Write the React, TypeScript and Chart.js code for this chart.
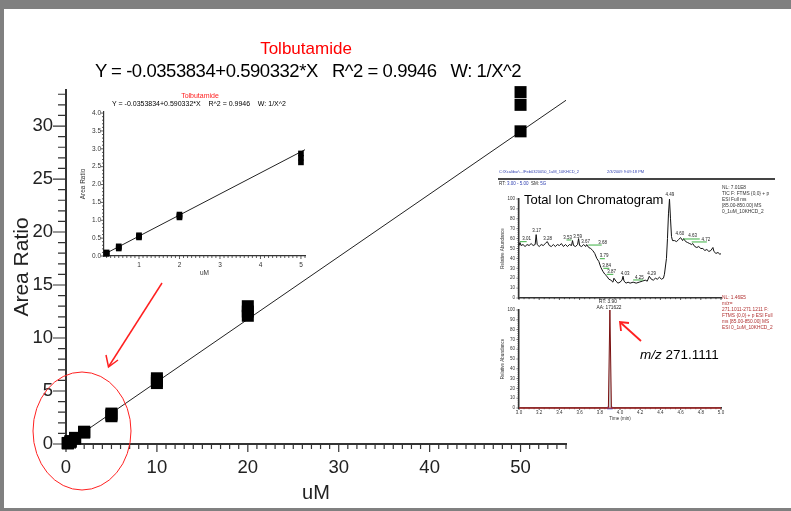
import React, { useEffect, useRef } from "react";
import { Chart, registerables } from "chart.js";

Chart.register(...registerables);

const FONT = '"Liberation Sans", Arial, Helvetica, sans-serif';
Chart.defaults.font.family = FONT;

// ---------------- Calibration data (Tolbutamide) ----------------
const concUM = [0.2, 0.2, 0.2, 0.5, 0.5, 0.5, 1, 1, 1, 2, 2, 2, 5, 5, 5, 10, 10, 10, 20, 20, 20, 50, 50, 50];
const areaRatio = [0.06, 0.08, 0.1, 0.21, 0.24, 0.27, 0.52, 0.55, 0.58, 1.08, 1.12, 1.16, 2.62, 2.75, 2.87, 5.75, 5.95, 6.2, 12.1, 12.5, 13.0, 29.5, 32.0, 33.2];
const fitConc = [0.2, 55];
const fitRatio = [0.083, 32.43];
const insetFitConc = [0.2, 5.1];
const insetFitRatio = [0.083, 2.975];

const mainXTicks = [0, 10, 20, 30, 40, 50];
const mainYTicks = [0, 5, 10, 15, 20, 25, 30];
const insetXTicks = [1, 2, 3, 4, 5];
const insetYTicks = [0, 0.5, 1, 1.5, 2, 2.5, 3, 3.5, 4];

// ---------------- Chromatogram data ----------------
const ticTime = [
  3.00, 3.01, 3.02, 3.04, 3.06, 3.08, 3.10, 3.12, 3.14, 3.16,
  3.17, 3.18,
  3.20, 3.22, 3.24, 3.26, 3.28,
  3.30, 3.32, 3.34, 3.36, 3.38, 3.40, 3.42, 3.44, 3.46, 3.48, 3.50, 3.52,
  3.53, 3.54, 3.56, 3.58, 3.59, 3.60, 3.62, 3.64, 3.66, 3.67,
  3.69, 3.71, 3.73, 3.75, 3.77, 3.79, 3.81, 3.83, 3.85, 3.87, 3.89, 3.91, 3.93,
  3.94, 3.96, 3.98, 4.00, 4.02, 4.03, 4.04, 4.06, 4.08, 4.10,
  4.13, 4.16, 4.19, 4.22, 4.25, 4.27, 4.29, 4.31, 4.33, 4.35, 4.37, 4.39, 4.41, 4.43,
  4.44, 4.46, 4.47, 4.48, 4.49, 4.50, 4.51, 4.52,
  4.54, 4.56, 4.58, 4.60, 4.62, 4.63, 4.65, 4.67, 4.69, 4.71, 4.72,
  4.74, 4.76, 4.78, 4.80, 4.82, 4.84, 4.86, 4.88, 4.90, 4.92, 4.93, 4.95, 4.97, 4.99, 5.00,
];
const ticAbund = [
  53, 56, 53, 54, 52, 54, 53, 55, 53, 54,
  64, 54,
  52, 54, 53, 55, 57,
  53, 52, 54, 52, 54, 53, 55, 52, 54, 52, 54, 53,
  58, 53, 52, 54, 60, 53, 52, 54, 52, 54,
  51, 50, 48, 45, 40, 37, 31, 27, 24, 22, 19, 18, 16,
  20, 17, 15, 16, 18, 22, 17, 15, 16, 15,
  16, 15, 16, 17, 18, 17, 22, 19, 18, 20, 19, 21, 19, 20,
  24, 40, 60, 85, 100, 80, 62, 58,
  58, 57, 59, 61, 58, 60, 57, 56, 55, 54, 55,
  52, 51, 52, 50, 50, 48, 49, 47, 48, 51, 47, 45, 46, 44, 45,
];
const ticPeakLabels = ["3.01", "3.17", "3.28", "3.53", "3.59", "3.67", "3.68", "3.79", "3.84", "3.87", "4.03", "4.25", "4.29", "4.49", "4.60", "4.63", "4.72"];
const ticLabelTime = [3.076, 3.175, 3.284, 3.482, 3.581, 3.66, 3.828, 3.842, 3.868, 3.918, 4.05, 4.191, 4.314, 4.495, 4.594, 4.72, 4.851];
const ticLabelAbund = [59.6, 67.7, 59.6, 60.9, 61.9, 56.3, 55.9, 42.4, 32.3, 26.6, 24.2, 20.9, 24.9, 104, 64.6, 62.6, 58.6];
const greenStart = [3.01, 3.47, 3.686, 3.8, 3.835, 3.868, 4.13, 4.627, 4.71];
const greenEnd = [3.076, 3.52, 3.819, 3.85, 3.894, 3.934, 4.23, 4.79, 4.86];
const greenLevel = [56.9, 58.6, 53.5, 39.7, 30, 23.9, 18.2, 59.6, 56.6];

const eicTime = [3.0, 3.885, 3.9, 3.915, 5.0];
const eicAbund = [0, 0, 100, 0, 0];
const eicBaseTime = [3.0, 5.0];
const eicBaseAbund = [0, 0];
const eicMarkTime = [3.885, 3.915];
const eicMarkAbund = [0, 0];

const chromXTicks = [3.0, 3.2, 3.4, 3.6, 3.8, 4.0, 4.2, 4.4, 4.6, 4.8, 5.0];
const chromYTicks = [0, 10, 20, 30, 40, 50, 60, 70, 80, 90, 100];

// ---------------- helpers ----------------
type TickSpec = { id: string; from: number; to: number; step: number; major: number; majorLen: number; minorLen: number; color?: string; width?: number };

function ticksPlugin(specs: TickSpec[]) {
  return {
    id: "axisTicks",
    beforeDatasetsDraw(chart: any) {
      const { ctx } = chart;
      specs.forEach((a) => {
        const s = chart.scales[a.id];
        ctx.save();
        ctx.strokeStyle = a.color || "#333";
        ctx.lineWidth = a.width || 1;
        ctx.beginPath();
        const n = Math.round((a.to - a.from) / a.step);
        for (let i = 0; i <= n; i++) {
          const v = a.from + i * a.step;
          const r = v / a.major;
          const isMajor = Math.abs(r - Math.round(r)) < 1e-6;
          const len = isMajor ? a.majorLen : a.minorLen;
          const p = s.getPixelForValue(v);
          if (s.isHorizontal()) {
            ctx.moveTo(p, s.top);
            ctx.lineTo(p, s.top + len);
          } else {
            ctx.moveTo(s.right, p);
            ctx.lineTo(s.right - len, p);
          }
        }
        ctx.stroke();
        ctx.restore();
      });
    },
  };
}

const pts = (xs: number[], ys: number[]) => xs.map((x, i) => ({ x, y: ys[i] }));
const setTicks = (vals: number[]) => (s: any) => {
  s.ticks = vals.map((v) => ({ value: v }));
};

function useChart(ref: any, make: () => any) {
  useEffect(() => {
    const c = new Chart(ref.current, make());
    return () => c.destroy();
  }, []);
}

const Txt = ({ x, y, size, color = "#000", center = false, children, style = {} }: any) => (
  <div
    style={{
      position: "absolute",
      left: x,
      top: y,
      fontSize: size,
      lineHeight: 1,
      color,
      fontFamily: FONT,
      whiteSpace: "pre",
      transform: center ? "translate(-50%,-50%)" : "translateY(-50%)",
      ...style,
    }}
  >
    {children}
  </div>
);

// ---------------- Main chart ----------------
function MainChart() {
  const ref = useRef<HTMLCanvasElement>(null);
  useChart(ref, () => ({
    type: "scatter",
    data: {
      datasets: [
        {
          type: "line",
          data: pts(fitConc, fitRatio),
          borderColor: "#222",
          borderWidth: 1,
          pointRadius: 0,
          order: 2,
        },
        {
          data: pts(concUM, areaRatio),
          pointStyle: "rect",
          pointRadius: 8.5,
          backgroundColor: "#000",
          borderWidth: 0,
          clip: false,
          order: 1,
        },
      ],
    },
    options: {
      responsive: false,
      animation: false,
      events: [],
      layout: { padding: { left: 0, top: 90, right: 225, bottom: 0 } },
      plugins: { legend: { display: false }, tooltip: { enabled: false } },
      scales: {
        x: {
          type: "linear",
          min: 0,
          max: 55,
          afterBuildTicks: setTicks(mainXTicks),
          afterFit: (s: any) => { s.height = 67; },
          grid: { display: false, drawTicks: true, tickLength: 8 },
          border: { display: true, color: "#333", width: 2 },
          ticks: { color: "#222", font: { size: 18.5 }, padding: 5, maxRotation: 0, autoSkip: false },
          title: { display: true, text: "uM", color: "#222", font: { size: 20 }, padding: { top: 0, bottom: 6 } },
        },
        y: {
          type: "linear",
          min: 0,
          max: 33.4,
          afterBuildTicks: setTicks(mainYTicks),
          afterFit: (s: any) => { s.width = 66; },
          grid: { display: false, drawTicks: true, tickLength: 13 },
          border: { display: true, color: "#333", width: 2 },
          ticks: { color: "#222", font: { size: 18.5 }, padding: 0, autoSkip: false },
          title: { display: true, text: "Area Ratio", color: "#222", font: { size: 21 }, padding: { top: 10, bottom: 0 } },
        },
      },
    },
    plugins: [
      ticksPlugin([
        { id: "x", from: 0, to: 55, step: 1, major: 10, majorLen: 8, minorLen: 5, color: "#333", width: 1.2 },
        { id: "y", from: 0, to: 33, step: 1, major: 5, majorLen: 13, minorLen: 8, color: "#333", width: 1.2 },
      ]),
    ],
  }));
  return <canvas ref={ref} width={791} height={511} style={{ position: "absolute", left: 0, top: 0, width: 791, height: 511 }} />;
}

// ---------------- Inset chart ----------------
function InsetChart() {
  const ref = useRef<HTMLCanvasElement>(null);
  useChart(ref, () => ({
    type: "scatter",
    data: {
      datasets: [
        { type: "line", data: pts(insetFitConc, insetFitRatio), borderColor: "#222", borderWidth: 1, pointRadius: 0, order: 2 },
        {
          data: pts(concUM.slice(0, 15), areaRatio.slice(0, 15)),
          pointStyle: "rect",
          pointRadius: 4,
          backgroundColor: "#000",
          borderWidth: 0,
          clip: false,
          order: 1,
        },
      ],
    },
    options: {
      responsive: false,
      animation: false,
      events: [],
      layout: { padding: { left: 0, top: 32, right: 15, bottom: 0 } },
      plugins: { legend: { display: false }, tooltip: { enabled: false } },
      scales: {
        x: {
          type: "linear",
          min: 0.136,
          max: 5.1,
          afterBuildTicks: setTicks(insetXTicks),
          afterFit: (s: any) => { s.height = 34; },
          grid: { display: false, drawTicks: true, tickLength: 3 },
          border: { display: true, color: "#333", width: 1.2 },
          ticks: { color: "#333", font: { size: 6.5 }, padding: 2, maxRotation: 0, autoSkip: false },
          title: { display: true, text: "uM", color: "#333", font: { size: 6.5 }, padding: { top: 0, bottom: 13 } },
        },
        y: {
          type: "linear",
          min: 0,
          max: 4.03,
          afterBuildTicks: setTicks(insetYTicks),
          afterFit: (s: any) => { s.width = 44; },
          grid: { display: false, drawTicks: true, tickLength: 3 },
          border: { display: true, color: "#333", width: 1.2 },
          ticks: { color: "#333", font: { size: 6.5 }, padding: 0, autoSkip: false, callback: (v: number) => v.toFixed(1) },
          title: { display: true, text: "Area Ratio", color: "#333", font: { size: 6.5 }, padding: { top: 19, bottom: 0 } },
        },
      },
    },
    plugins: [
      ticksPlugin([
        { id: "x", from: 0.2, to: 5.1, step: 0.1, major: 1, majorLen: 3, minorLen: 2, color: "#333", width: 0.8 },
        { id: "y", from: 0, to: 4, step: 0.1, major: 0.5, majorLen: 3, minorLen: 2, color: "#333", width: 0.8 },
      ]),
    ],
  }));
  return <canvas ref={ref} width={260} height={210} style={{ position: "absolute", left: 60, top: 80, width: 260, height: 210 }} />;
}

// ---------------- TIC chart ----------------
const ticLabelPlugin = {
  id: "ticLabels",
  afterDatasetsDraw(chart: any) {
    const { ctx } = chart;
    const { x, y } = chart.scales;
    ctx.save();
    ctx.strokeStyle = "#3cb043";
    ctx.lineWidth = 1;
    greenStart.forEach((t0, i) => {
      const yy = y.getPixelForValue(greenLevel[i]);
      ctx.beginPath();
      ctx.moveTo(x.getPixelForValue(t0), yy);
      ctx.lineTo(x.getPixelForValue(greenEnd[i]), yy);
      ctx.stroke();
    });
    ctx.font = `4.5px ${FONT}`;
    ctx.fillStyle = "#222";
    ctx.textAlign = "center";
    ctx.textBaseline = "middle";
    ticPeakLabels.forEach((lab, i) => {
      ctx.fillText(lab, x.getPixelForValue(ticLabelTime[i]), y.getPixelForValue(ticLabelAbund[i]));
    });
    ctx.restore();
  },
};

function chromScales(xHeight: number, showX: boolean) {
  return {
    x: {
      type: "linear",
      min: 3.0,
      max: 5.0,
      afterBuildTicks: setTicks(chromXTicks),
      afterFit: (s: any) => { s.height = xHeight; },
      grid: { display: false, drawTicks: true, tickLength: 1.5 },
      border: { display: true, color: "#333", width: 1.5 },
      ticks: { display: showX, color: "#333", font: { size: 4.5 }, padding: 1, maxRotation: 0, autoSkip: false, callback: (v: number) => v.toFixed(1) },
      title: { display: showX, text: "Time (min)", color: "#333", font: { size: 4.5 }, padding: { top: 0, bottom: 8.3 } },
    },
    y: {
      type: "linear",
      min: 0,
      max: 100,
      afterBuildTicks: setTicks(chromYTicks),
      afterFit: (s: any) => { s.width = 49; },
      grid: { display: false, drawTicks: true, tickLength: 2.5 },
      border: { display: true, color: "#333", width: 1.5 },
      ticks: { color: "#333", font: { size: 4.5 }, padding: 1.5, autoSkip: false },
      title: { display: true, text: "Relative Abundance", color: "#333", font: { size: 4.5 }, padding: { top: 30.3, bottom: 0 } },
    },
  };
}

const chromTicks = () =>
  ticksPlugin([
    { id: "x", from: 3.0, to: 5.0, step: 0.05, major: 0.2, majorLen: 2, minorLen: 1.2, color: "#333", width: 0.8 },
    { id: "y", from: 0, to: 100, step: 2, major: 10, majorLen: 2.5, minorLen: 1.5, color: "#333", width: 0.8 },
  ]);

function TicChart() {
  const ref = useRef<HTMLCanvasElement>(null);
  useChart(ref, () => ({
    type: "line",
    data: {
      datasets: [
        { data: pts(ticTime, ticAbund), borderColor: "#111", borderWidth: 1, pointRadius: 0, tension: 0, clip: false },
      ],
    },
    options: {
      responsive: false,
      animation: false,
      events: [],
      layout: { padding: { left: 0, top: 14, right: 69, bottom: 0 } },
      plugins: { legend: { display: false }, tooltip: { enabled: false } },
      scales: chromScales(7, false),
    },
    plugins: [chromTicks(), ticLabelPlugin],
  }));
  return <canvas ref={ref} width={320} height={120} style={{ position: "absolute", left: 470, top: 185, width: 320, height: 120 }} />;
}

function EicChart() {
  const ref = useRef<HTMLCanvasElement>(null);
  useChart(ref, () => ({
    type: "line",
    data: {
      datasets: [
        { data: pts(eicBaseTime, eicBaseAbund), borderColor: "#c83c3c", borderWidth: 1.2, pointRadius: 0, clip: false },
        {
          data: pts(eicTime, eicAbund),
          borderColor: "#7a0f0f",
          borderWidth: 1,
          pointRadius: 0,
          tension: 0,
          fill: "origin",
          backgroundColor: "#c9c9c9",
          clip: false,
        },
        {
          type: "scatter",
          data: pts(eicMarkTime, eicMarkAbund),
          pointStyle: "rect",
          pointRadius: 1.8,
          backgroundColor: "#2a3cd0",
          borderWidth: 0,
          clip: false,
        },
      ],
    },
    options: {
      responsive: false,
      animation: false,
      events: [],
      layout: { padding: { left: 0, top: 10, right: 69, bottom: 0 } },
      plugins: { legend: { display: false }, tooltip: { enabled: false }, filler: { propagate: false } },
      scales: chromScales(22, true),
    },
    plugins: [chromTicks()],
  }));
  return <canvas ref={ref} width={320} height={130} style={{ position: "absolute", left: 470, top: 300, width: 320, height: 130 }} />;
}

// ---------------- App ----------------
export default function App() {
  const topNotes = ["NL: 7.01E8", "TIC F: FTMS {0,0} + p", "ESI Full ms", "[85.00-850.00] MS", "0_1uM_10KHCD_2"];
  const lowNotes = ["NL: 1.46E5", "m/z=", "271.1011-271.1211 F:", "FTMS {0,0} + p ESI Full", "ms [85.00-850.00] MS", "ESI 0_1uM_10KHCD_2"];
  return (
    <div style={{ position: "fixed", left: 0, top: 0, width: 791, height: 511, background: "#808080", overflow: "hidden" }}>
      <div style={{ position: "absolute", left: 4, top: 9, width: 787, height: 499, background: "#fff" }} />
      <MainChart />
      <InsetChart />
      <TicChart />
      <EicChart />

      {/* titles */}
      <Txt x={306} y={48} size={17} color="#ff0000" center>Tolbutamide</Txt>
      <Txt x={308} y={71} size={18.5} color="#000" center style={{ letterSpacing: "-0.45px" }}>
        {"Y = -0.0353834+0.590332*X   R^2 = 0.9946   W: 1/X^2"}
      </Txt>
      <Txt x={200} y={95} size={7} color="#ff2020" center>Tolbutamide</Txt>
      <Txt x={199} y={103} size={7} color="#000" center>{"Y = -0.0353834+0.590332*X    R^2 = 0.9946    W: 1/X^2"}</Txt>

      {/* chromatogram header */}
      <Txt x={499} y={172} size={4} color="#3040b0">{"C:\\Xcalibur\\...\\Feb0320050_1uM_10KHCD_2"}</Txt>
      <Txt x={607} y={172} size={4} color="#3040b0">2/3/2009 9:09:18 PM</Txt>
      <div style={{ position: "absolute", left: 498, top: 178, width: 277, height: 1.5, background: "#444" }} />
      <Txt x={499} y={184} size={4.5} color="#222">
        RT: <span style={{ color: "#3040b0" }}>3.00 - 5.00</span>  SM: <span style={{ color: "#3040b0" }}>5G</span>
      </Txt>
      <Txt x={524} y={199} size={13} color="#000">Total Ion Chromatogram</Txt>
      {topNotes.map((t, i) => (
        <Txt key={t} x={722} y={188 + i * 6} size={4.8} color="#333">{t}</Txt>
      ))}
      {lowNotes.map((t, i) => (
        <Txt key={t} x={722} y={298 + i * 6} size={4.8} color="#b03030">{t}</Txt>
      ))}
      <Txt x={608} y={302} size={4.8} color="#222" center>RT: 3.90</Txt>
      <Txt x={609} y={307.5} size={4.8} color="#222" center>AA: 171622</Txt>
      <Txt x={640} y={355} size={13.5} color="#000">
        <i>m/z</i> 271.1111
      </Txt>

      {/* red annotations */}
      <svg width={791} height={511} style={{ position: "absolute", left: 0, top: 0, pointerEvents: "none" }}>
        <ellipse cx={82} cy={431} rx={49} ry={59} fill="none" stroke="#ff2020" strokeWidth={1} />
        <line x1={162} y1={283} x2={109} y2={366} stroke="#ff2020" strokeWidth={1.5} />
        <polyline points="106,355 108.5,367 118,360" fill="none" stroke="#ff2020" strokeWidth={1.5} />
        <line x1={641} y1={341} x2={621} y2={323} stroke="#ff2020" strokeWidth={1.8} />
        <polyline points="621,331 620,322 629,323" fill="none" stroke="#ff2020" strokeWidth={1.8} />
      </svg>
    </div>
  );
}
